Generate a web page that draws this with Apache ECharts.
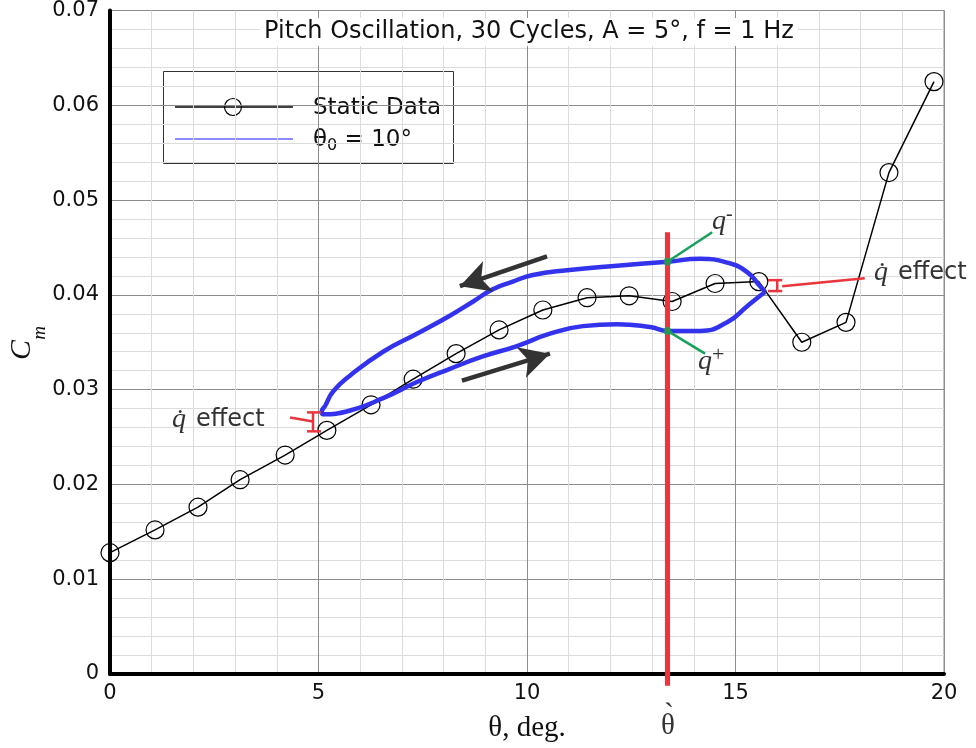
<!DOCTYPE html>
<html>
<head>
<meta charset="utf-8">
<script src="https://cdn.jsdelivr.net/npm/echarts@6/dist/echarts.min.js"></script>
<style>
  html, body { margin: 0; padding: 0; background: #ffffff; }
  #chart { width: 976px; height: 748px; }
</style>
</head>
<body>
<div id="chart"></div>
<script>
// Static pitching-moment curve
const staticTheta = [0, 1.08, 2.11, 3.12, 4.2, 5.2, 6.26, 7.27, 8.3, 9.33, 10.38, 11.44, 12.45, 13.48, 14.51, 15.56, 16.59, 17.65, 18.68, 19.76];
const staticCm    = [0.0128, 0.0152, 0.0176, 0.0205, 0.0231, 0.0257, 0.0284, 0.0311, 0.0338, 0.0363, 0.0384, 0.0397, 0.0399, 0.0393, 0.0412, 0.0414, 0.0350, 0.0371, 0.0529, 0.0625];

// Dynamic hysteresis loop, theta0 = 10 deg (pitch-down branch, then pitch-up branch)
const loopTheta = [15.71, 15.59, 15.28, 14.80, 14.15, 13.38, 12.23, 10.96, 10.14, 9.66, 9.18, 8.71, 8.15, 7.36, 6.55, 5.76, 5.35, 5.16, 5.08,
                   5.11, 5.76, 6.55, 7.36, 8.15, 8.94, 9.76, 10.55, 11.34, 12.16, 12.95, 13.38, 14.15, 14.80, 15.28, 15.59, 15.71];
const loopCm    = [0.0403, 0.0409, 0.0424, 0.0434, 0.0438, 0.0435, 0.0431, 0.0426, 0.0421, 0.0414, 0.0406, 0.0393, 0.0378, 0.0359, 0.0340, 0.0315, 0.0298, 0.0283, 0.0277,
                   0.0274, 0.0278, 0.0291, 0.0308, 0.0322, 0.0335, 0.0346, 0.0359, 0.0367, 0.0369, 0.0366, 0.0362, 0.0362, 0.0371, 0.0388, 0.0399, 0.0403];

// Axis ticks
const xTicks = [0, 5, 10, 15, 20];
const yTicks = [0, 0.01, 0.02, 0.03, 0.04, 0.05, 0.06, 0.07];

// Marked pitch angle and the q-/q+ crossings
const thetaMark = 13.37;
const qMinus = 0.0435;
const qPlus = 0.0362;

const SANS = "'DejaVu Sans', 'Liberation Sans', Arial, sans-serif";
const SERIF = "'Liberation Serif', 'Times New Roman', serif";
const RED = '#e8363c';
const GREEN = '#17a05a';
const BLUE = '#3333ee';

const zip = (a, b) => a.map((v, i) => [v, b[i]]);

const chart = echarts.init(document.getElementById('chart'), null, { renderer: 'canvas' });

function seg(points, color, width, z) {
  return {
    type: 'line', data: points, symbol: 'none', clip: false, silent: true,
    lineStyle: { color: color, width: width }, z: z, animation: false
  };
}

const option = {
  animation: false,
  backgroundColor: '#ffffff',
  grid: { left: 110, right: 32, top: 10, bottom: 71, show: true, borderColor: '#8c8c8c', borderWidth: 1 },
  xAxis: {
    type: 'value', min: xTicks[0], max: xTicks[xTicks.length - 1], interval: 5,
    axisLine: { onZero: false, lineStyle: { color: '#000', width: 4 } },
    axisTick: { show: false },
    axisLabel: { fontSize: 21, fontFamily: SANS, color: '#111', margin: 9 },
    splitLine: { lineStyle: { color: '#8c8c8c', width: 1 } },
    minorTick: { show: false, splitNumber: 5 },
    minorSplitLine: { show: true, lineStyle: { color: '#dcdcdc', width: 1 } },
    name: 'θ, deg.', nameLocation: 'middle', nameGap: 40,
    nameTextStyle: { fontSize: 29, fontFamily: SERIF, color: '#111' }
  },
  yAxis: {
    type: 'value', min: yTicks[0], max: yTicks[yTicks.length - 1], interval: 0.01,
    axisLine: { onZero: false, lineStyle: { color: '#000', width: 4 } },
    axisTick: { show: false },
    axisLabel: {
      fontSize: 21, fontFamily: SANS, color: '#111', margin: 11,
      formatter: v => (v === 0 ? '0' : v.toFixed(2))
    },
    splitLine: { lineStyle: { color: '#8c8c8c', width: 1 } },
    minorTick: { show: false, splitNumber: 5 },
    minorSplitLine: { show: true, lineStyle: { color: '#dcdcdc', width: 1 } }
  },
  series: [
    {
      name: 'Static Data', type: 'line', data: zip(staticTheta, staticCm),
      symbol: 'circle', symbolSize: 18,
      itemStyle: { color: 'rgba(0,0,0,0)', borderColor: '#000', borderWidth: 1.2 },
      lineStyle: { color: '#000', width: 1.5 }, z: 3
    },
    {
      name: 'θ0 = 10°', type: 'line', data: zip(loopTheta, loopCm),
      symbol: 'none', smooth: 0.5,
      lineStyle: { color: BLUE, width: 4.5 }, z: 4
    },
    // direction arrows along the loop
    {
      type: 'line', data: [], z: 6, silent: true,
      markLine: {
        silent: true, symbol: ['none', 'arrow'], symbolSize: [24, 30],
        label: { show: false },
        lineStyle: { color: '#333', width: 4.5, type: 'solid' },
        data: [
          [{ coord: [10.48, 0.04407] }, { coord: [8.39, 0.04092] }],
          [{ coord: [8.44, 0.03095] }, { coord: [10.55, 0.03379] }]
        ]
      }
    },
    // vertical marker at the selected pitch angle
    seg([[thetaMark, -0.00125], [thetaMark, 0.0466]], RED, 5, 7),
    // q- and q+ leaders
    seg([[thetaMark, qMinus], [14.44, 0.0466]], GREEN, 2.5, 8),
    seg([[thetaMark, qPlus], [14.27, 0.0338]], GREEN, 2.5, 8),
    {
      type: 'scatter', data: [[thetaMark, qMinus], [thetaMark, qPlus]],
      symbol: 'circle', symbolSize: 8, itemStyle: { color: GREEN }, z: 9, silent: true
    },
    // q-dot effect brackets (left)
    seg([[4.317, 0.02707], [4.868, 0.02665]], RED, 2.5, 8),
    seg([[4.868, 0.0276], [4.868, 0.0256]], RED, 2.5, 8),
    seg([[4.724, 0.0276], [5.06, 0.0276]], RED, 2.5, 8),
    seg([[4.724, 0.0256], [5.06, 0.0256]], RED, 2.5, 8),
    // q-dot effect brackets (right)
    seg([[16.12, 0.04092], [18.1, 0.04176]], RED, 2.5, 8),
    seg([[16.0, 0.04155], [16.0, 0.0404]], RED, 2.5, 8),
    seg([[15.78, 0.04155], [16.12, 0.04155]], RED, 2.5, 8),
    seg([[15.78, 0.0404], [16.12, 0.0404]], RED, 2.5, 8)
  ],
  graphic: [
    // title
    {
      type: 'text', x: 529, y: 32, z: 20,
      style: {
        text: 'Pitch Oscillation, 30 Cycles, A = 5°, f = 1 Hz',
        font: '24px ' + SANS, fill: '#111', align: 'center', verticalAlign: 'middle',
        backgroundColor: '#fff', padding: [2, 4]
      }
    },
    // legend box
    {
      type: 'group', z: 20,
      children: [
        { type: 'rect', shape: { x: 163.5, y: 71.5, width: 290, height: 92 }, style: { fill: '#fff', stroke: '#333', lineWidth: 1 } },
        { type: 'line', shape: { x1: 175, y1: 107, x2: 293, y2: 107 }, style: { stroke: '#000', lineWidth: 1.5 } },
        { type: 'circle', shape: { cx: 233, cy: 107, r: 8.5 }, style: { fill: 'none', stroke: '#000', lineWidth: 1.2 } },
        { type: 'text', x: 313, y: 108, style: { text: 'Static Data', font: '23px ' + SANS, fill: '#111', verticalAlign: 'middle' } },
        { type: 'line', shape: { x1: 175, y1: 139, x2: 293, y2: 139 }, style: { stroke: '#8c8cff', lineWidth: 2 } },
        {
          type: 'text', x: 313, y: 140,
          style: {
            text: '{a|θ}{s|0}{a| = 10°}', verticalAlign: 'middle', fill: '#111',
            rich: {
              a: { font: '23px ' + SANS, fill: '#111' },
              s: { font: '16px ' + SANS, fill: '#111', padding: [12, 0, 0, 0] }
            }
          }
        }
      ]
    },
    // y axis title
    { type: 'text', x: 22, y: 350, rotation: Math.PI / 2, z: 20,
      style: { text: 'C', font: 'italic 30px ' + SERIF, fill: '#111', align: 'center', verticalAlign: 'middle' } },
    { type: 'text', x: 40, y: 333, rotation: Math.PI / 2, z: 20,
      style: { text: 'm', font: 'italic 19px ' + SERIF, fill: '#111', align: 'center', verticalAlign: 'middle' } },
    // theta-dot label under the marker
    { type: 'text', x: 668, y: 726, z: 20,
      style: { text: 'θ', font: '29px ' + SERIF, fill: '#333', align: 'center', verticalAlign: 'middle' } },
    { type: 'text', x: 669, y: 715, z: 20,
      style: { text: '`', font: '30px ' + SERIF, fill: '#333', align: 'center', verticalAlign: 'middle' } },
    // q- / q+ labels
    { type: 'text', x: 712, y: 222, z: 20,
      style: { text: '{q|q}{s|-}', verticalAlign: 'middle',
        rich: { q: { font: 'italic 28px ' + SERIF, fill: '#333' }, s: { font: '20px ' + SERIF, fill: '#333', padding: [0, 0, 14, 0] } } } },
    { type: 'text', x: 698, y: 362, z: 20,
      style: { text: '{q|q}{s|+}', verticalAlign: 'middle',
        rich: { q: { font: 'italic 28px ' + SERIF, fill: '#333' }, s: { font: '22px ' + SERIF, fill: '#333', padding: [0, 0, 14, 0] } } } },
    // q-dot effect labels
    { type: 'text', x: 172, y: 420, z: 20,
      style: { text: '{q|q\u0307}{e|effect}', verticalAlign: 'middle',
        rich: { q: { font: 'italic 28px ' + SERIF, fill: '#333', padding: [0, 10, 0, 0] }, e: { font: '24px ' + SANS, fill: '#333' } } } },
    { type: 'text', x: 874, y: 273, z: 20,
      style: { text: '{q|q\u0307}{e|effect}', verticalAlign: 'middle',
        rich: { q: { font: 'italic 28px ' + SERIF, fill: '#333', padding: [0, 10, 0, 0] }, e: { font: '24px ' + SANS, fill: '#333' } } } }
  ]
};

chart.setOption(option);
</script>
</body>
</html>
